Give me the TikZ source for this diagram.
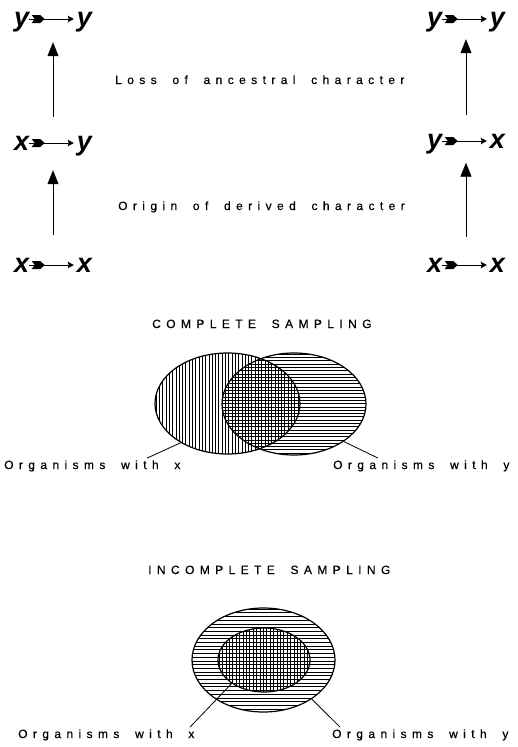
\documentclass[tikz,border=0pt]{standalone}
\usepackage{fontspec}
\setmainfont{Liberation Sans}
\newfontfamily\spaced[LetterSpace=45,WordSpace=1.8,FakeBold=0.5]{Liberation Sans}
\usetikzlibrary{arrows.meta,shapes.geometric,decorations.markings}
\tikzset{
  expr/.style={minimum width=78pt, minimum height=24pt, inner sep=0pt},
  letr/.style={font=\fontsize{27}{27}\selectfont\bfseries\itshape, inner sep=0pt, text height=14pt, text depth=0pt},
  fletch/.style={line width=1pt, -{Stealth[length=6pt,width=6.5pt,inset=1pt]}, shorten >=3pt,
    postaction={decorate, decoration={markings,
      mark=at position 2.5pt with {\fill (0pt,4pt) -- (8.5pt,4pt) -- (13pt,0pt) -- (8.5pt,-4pt) -- (0pt,-4pt) -- (3pt,0pt) -- cycle;}}}},
  uparrow/.style={line width=0.9pt, -{Triangle[length=14pt,width=11pt]}},
  lab/.style={font=\spaced\fontsize{12}{14}\selectfont, inner sep=0pt, anchor=base west},
  ell/.style={draw, ellipse, line width=1.2pt, inner sep=0pt},
  hatch/.style={line width=0.55pt},
  lead/.style={line width=0.8pt}
}
\begin{document}
\begin{tikzpicture}[x=1pt,y=-1pt]
\useasboundingbox (0,0) rectangle (517,747);
% expressions
\node[expr] (eL1) at (53,19) {};
\node[expr] (eL2) at (53,143) {};
\node[expr] (eL3) at (53,265) {};
\node[expr] (eR1) at (466,19) {};
\node[expr] (eR2) at (466,141) {};
\node[expr] (eR3) at (466,265) {};
\node[letr, anchor=west] (L1a) at (eL1.west) {y};
\node[letr, anchor=east] (L1b) at (eL1.east) {y};
\node[letr, anchor=west] (L2a) at (eL2.west) {x};
\node[letr, anchor=east] (L2b) at (eL2.east) {y};
\node[letr, anchor=west] (L3a) at (eL3.west) {x};
\node[letr, anchor=east] (L3b) at (eL3.east) {x};
\node[letr, anchor=west] (R1a) at (eR1.west) {y};
\node[letr, anchor=east] (R1b) at (eR1.east) {y};
\node[letr, anchor=west] (R2a) at (eR2.west) {y};
\node[letr, anchor=east] (R2b) at (eR2.east) {x};
\node[letr, anchor=west] (R3a) at (eR3.west) {x};
\node[letr, anchor=east] (R3b) at (eR3.east) {x};
\foreach \n in {L1,L2,L3,R1,R2,R3} \draw[fletch] (\n a) -- (\n b);
\draw[uparrow, shorten <=14pt, shorten >=11pt] (eL2.north) -- (eL1.south);
\draw[uparrow, shorten <=17.5pt, shorten >=15pt] (eL3.north) -- (eL2.south);
\draw[uparrow, shorten <=13.5pt, shorten >=8pt] (eR2.north) -- (eR1.south);
\draw[uparrow, shorten <=15.5pt, shorten >=9.5pt] (eR3.north) -- (eR2.south);
% labels
\node[lab] (loss) at (115,84) {Loss of ancestral character};
\node[lab] (orig) at (118,210) {Origin of derived character};
\node[lab] (cs) at (152,328) {COMPLETE SAMPLING};
\node[lab] (is) at (148,574) {INCOMPLETE SAMPLING};
\node[lab] (cx) at (4,469) {Organisms with x};
\node[lab] (cy) at (333,469) {Organisms with y};
\node[lab] (ix) at (18,738) {Organisms with x};
\node[lab] (iy) at (332,738) {Organisms with y};
% complete sampling hatching
\begin{scope}
\clip (227.5,403.5) ellipse [x radius=72.5, y radius=50.5];
\foreach \x in {156,159.3,...,300} \draw[hatch] (\x,350) -- (\x,460);
\end{scope}
\begin{scope}
\clip (294,404) ellipse [x radius=72, y radius=51];
\foreach \y in {354,357.3,...,456} \draw[hatch] (220,\y) -- (370,\y);
\end{scope}
\node[ell, minimum width=145pt, minimum height=101pt] (A) at (227.5,403.5) {};
\node[ell, minimum width=144pt, minimum height=102pt] (B) at (294,404) {};
\draw[lead] (A.220) -- ([xshift=143pt,yshift=2pt]cx.north west);
\draw[lead] (B.323) -- ([xshift=45pt,yshift=2pt]cy.north west);
% incomplete sampling hatching
\begin{scope}
\clip (263.5,660) ellipse [x radius=71.5, y radius=52];
\foreach \y in {609,612.7,...,712} \draw[hatch] (190,\y) -- (337,\y);
\end{scope}
\begin{scope}
\clip (264,660) ellipse [x radius=46, y radius=32];
\foreach \x in {219,222.4,...,310} \draw[hatch] (\x,626) -- (\x,694);
\end{scope}
\node[ell, minimum width=143pt, minimum height=104pt] (D) at (263.5,660) {};
\node[ell, minimum width=92pt, minimum height=64pt] (C) at (264,660) {};
\draw[lead] (C.216) -- ([xshift=172pt,yshift=2pt]ix.north west);
\draw[lead] (D.321) -- ([xshift=8pt,yshift=2pt]iy.north west);
\end{tikzpicture}
\end{document}
